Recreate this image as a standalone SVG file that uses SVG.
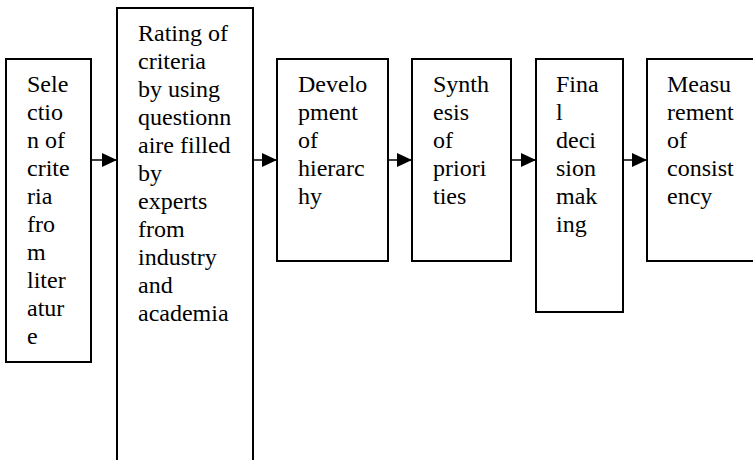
<svg xmlns="http://www.w3.org/2000/svg" width="753" height="460" viewBox="0 0 753 460">
<style>
.box{fill:#fff;stroke:#000;stroke-width:2}
.t{font-family:"Liberation Serif",Tinos,"Times New Roman",Times,"Noto Serif","DejaVu Serif",serif;font-size:24px;fill:#000}
.c{stroke:#000;stroke-width:1.5;fill:none}
</style>
<defs>
<marker id="ah" markerWidth="15" markerHeight="14" refX="15" refY="7" orient="auto" markerUnits="userSpaceOnUse">
<path d="M0,0 L15,7 L0,14 Z" fill="#000"/>
</marker>
</defs>
<rect width="753" height="460" fill="#fff"/>
<g id="n1">
<rect class="box" x="6" y="59" width="85" height="303"/>
<text class="t" x="27" y="92"><tspan x="27">Sele</tspan><tspan x="27" dy="28">ctio</tspan><tspan x="27" dy="28">n of</tspan><tspan x="27" dy="28">crite</tspan><tspan x="27" dy="28">ria</tspan><tspan x="27" dy="28">fro</tspan><tspan x="27" dy="28">m</tspan><tspan x="27" dy="28">liter</tspan><tspan x="27" dy="28">atur</tspan><tspan x="27" dy="28">e</tspan></text>
</g>
<g id="n2">
<rect class="box" x="117" y="8" width="136" height="470"/>
<text class="t" x="138" y="41"><tspan x="138">Rating of</tspan><tspan x="138" dy="28">criteria</tspan><tspan x="138" dy="28">by using</tspan><tspan x="138" dy="28">questionn</tspan><tspan x="138" dy="28">aire filled</tspan><tspan x="138" dy="28">by</tspan><tspan x="138" dy="28">experts</tspan><tspan x="138" dy="28">from</tspan><tspan x="138" dy="28">industry</tspan><tspan x="138" dy="28">and</tspan><tspan x="138" dy="28">academia</tspan></text>
</g>
<g id="n3">
<rect class="box" x="277" y="59" width="111" height="202"/>
<text class="t" x="298" y="92"><tspan x="298">Develo</tspan><tspan x="298" dy="28">pment</tspan><tspan x="298" dy="28">of</tspan><tspan x="298" dy="28">hierarc</tspan><tspan x="298" dy="28">hy</tspan></text>
</g>
<g id="n4">
<rect class="box" x="412" y="59" width="99" height="202"/>
<text class="t" x="433" y="92"><tspan x="433">Synth</tspan><tspan x="433" dy="28">esis</tspan><tspan x="433" dy="28">of</tspan><tspan x="433" dy="28">priori</tspan><tspan x="433" dy="28">ties</tspan></text>
</g>
<g id="n5">
<rect class="box" x="536" y="59" width="87" height="253"/>
<text class="t" x="556" y="92"><tspan x="556">Fina</tspan><tspan x="556" dy="28">l</tspan><tspan x="556" dy="28">deci</tspan><tspan x="556" dy="28">sion</tspan><tspan x="556" dy="28">mak</tspan><tspan x="556" dy="28">ing</tspan></text>
</g>
<g id="n6">
<rect class="box" x="647" y="59" width="120" height="202"/>
<text class="t" x="667" y="92"><tspan x="667">Measu</tspan><tspan x="667" dy="28">rement</tspan><tspan x="667" dy="28">of</tspan><tspan x="667" dy="28">consist</tspan><tspan x="667" dy="28">ency</tspan></text>
</g>
<g id="connectors">
<line class="c" x1="91" y1="160" x2="117" y2="160" marker-end="url(#ah)"/>
<line class="c" x1="253" y1="160" x2="277" y2="160" marker-end="url(#ah)"/>
<line class="c" x1="388" y1="160" x2="412" y2="160" marker-end="url(#ah)"/>
<line class="c" x1="511" y1="160" x2="536" y2="160" marker-end="url(#ah)"/>
<line class="c" x1="623" y1="160" x2="647" y2="160" marker-end="url(#ah)"/>
</g>
</svg>
